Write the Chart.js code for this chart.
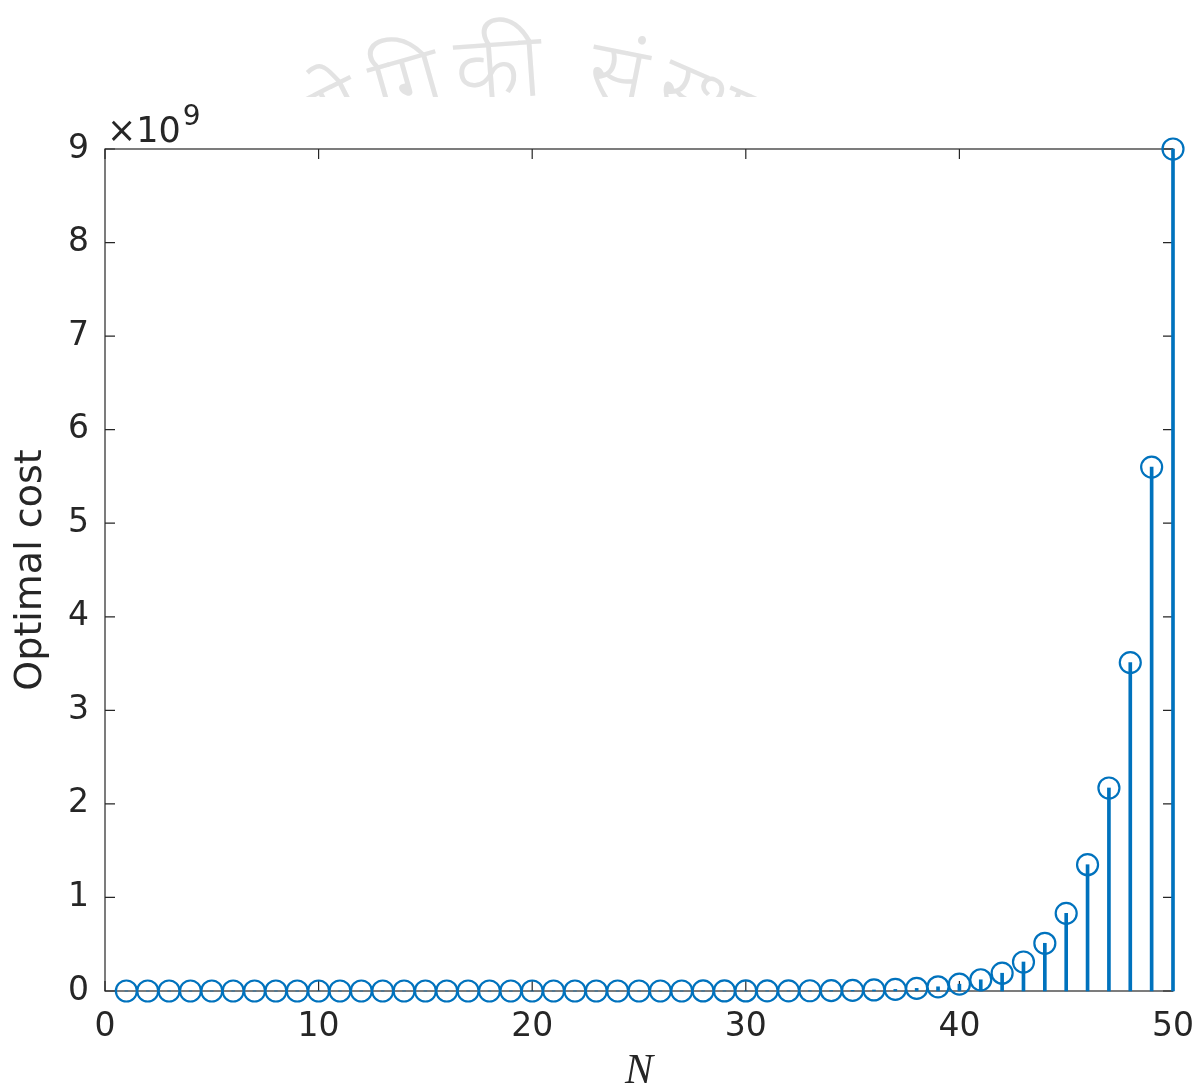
<!DOCTYPE html>
<html>
<head>
<meta charset="utf-8">
<title>Optimal cost vs N</title>
<script src="https://cdn.jsdelivr.net/npm/chart.js@4.4.1/dist/chart.umd.min.js"></script>
<style>
  html, body { margin: 0; padding: 0; background: #fff; }
  #wrap { width: 1199px; height: 1088px; }
</style>
</head>
<body>
<div id="wrap"><canvas id="chart" width="1199" height="1088"></canvas></div>
<script>
// horizon length N
const horizon = [
  1, 2, 3, 4, 5, 6, 7, 8, 9, 10,
  11, 12, 13, 14, 15, 16, 17, 18, 19, 20,
  21, 22, 23, 24, 25, 26, 27, 28, 29, 30,
  31, 32, 33, 34, 35, 36, 37, 38, 39, 40,
  41, 42, 43, 44, 45, 46, 47, 48, 49, 50
];
// optimal cost, in units of 1e9
const optimalCost = [
  0, 0, 0, 0, 0, 0, 0, 0, 0, 0,
  0, 0, 0, 0, 0, 0, 0, 0, 0, 0,
  0, 0, 0, 0, 0, 0, 0.0002, 0.0003, 0.0005, 0.0008,
  0.001, 0.0015, 0.0025, 0.004, 0.0066, 0.011, 0.017, 0.028, 0.045, 0.073,
  0.12, 0.19, 0.31, 0.51, 0.83, 1.35, 2.17, 3.51, 5.6, 9.0
];
const xTicks = [0, 10, 20, 30, 40, 50];
const yTicks = [0, 1, 2, 3, 4, 5, 6, 7, 8, 9];
const exponentLabel = ['\u00d710', '9'];
// seal lettering, one grapheme cluster per entry
const sealText = ['प्रौ', 'द्यो', 'गि', 'की', ' ', 'सं', 'स्था', 'न'];

const stemBlue = '#0072BD';
const axisInk = '#262626';
const tickFont = { family: 'DejaVu Sans', size: 33 };

const points = horizon.map((n, i) => ({ x: n, y: optimalCost[i] }));

// faint round seal peeking out above the axes, lettering set on an arc
const stamp = {
  id: 'stamp',
  beforeDraw(chart) {
    const { ctx } = chart;
    const cx = 530, r = 420, cy = 97 + r;
    const gap = 8;
    ctx.save();
    ctx.beginPath();
    ctx.rect(290, 0, 475, 97);
    ctx.clip();
    ctx.fillStyle = '#e3e3e3';
    ctx.font = '300 90px "Noto Sans", sans-serif';
    ctx.textBaseline = 'alphabetic';
    ctx.textAlign = 'left';
    const widths = sealText.map(t => ctx.measureText(t).width + gap);
    // put the middle of the 4th cluster a little left of the seal centre
    const before = widths.slice(0, 3).reduce((a, b) => a + b, 0) + widths[3] / 2;
    let s = -before - 0.071 * r;
    sealText.forEach((t, i) => {
      const w = widths[i];
      const theta = (s + w / 2) / r;
      ctx.save();
      ctx.translate(cx, cy);
      ctx.rotate(theta);
      ctx.fillText(t, -(w - gap) / 2, -r);
      ctx.restore();
      s += w;
    });
    ctx.restore();
  }
};

// box around the axes with inward ticks on all four sides, plus the exponent
const axesBox = {
  id: 'axesBox',
  beforeDatasetsDraw(chart) {
    const { ctx, chartArea: a, scales: { x, y } } = chart;
    const len = 10;
    ctx.save();
    ctx.strokeStyle = axisInk;
    ctx.lineWidth = 1.2;
    ctx.strokeRect(a.left, a.top, a.right - a.left, a.bottom - a.top);
    ctx.beginPath();
    xTicks.forEach(v => {
      const px = x.getPixelForValue(v);
      ctx.moveTo(px, a.bottom); ctx.lineTo(px, a.bottom - len);
      ctx.moveTo(px, a.top); ctx.lineTo(px, a.top + len);
    });
    yTicks.forEach(v => {
      const py = y.getPixelForValue(v);
      ctx.moveTo(a.left, py); ctx.lineTo(a.left + len, py);
      ctx.moveTo(a.right, py); ctx.lineTo(a.right - len, py);
    });
    ctx.stroke();

    ctx.fillStyle = axisInk;
    ctx.textBaseline = 'alphabetic';
    ctx.font = '35px "DejaVu Sans"';
    ctx.fillText(exponentLabel[0], a.left + 2, a.top - 7);
    const w = ctx.measureText(exponentLabel[0]).width;
    ctx.font = '28px "DejaVu Sans"';
    ctx.fillText(exponentLabel[1], a.left + 4 + w, a.top - 24);
    ctx.restore();
  }
};

new Chart(document.getElementById('chart'), {
  type: 'bar',
  data: {
    datasets: [
      {
        type: 'line',
        data: points,
        showLine: false,
        pointStyle: 'circle',
        pointRadius: 10.5,
        pointBorderWidth: 2.2,
        pointBorderColor: stemBlue,
        pointBackgroundColor: 'rgba(0,0,0,0)',
        clip: false,
        order: 1
      },
      {
        type: 'bar',
        data: points,
        backgroundColor: stemBlue,
        barThickness: 3,
        clip: false,
        order: 2
      }
    ]
  },
  options: {
    responsive: false,
    animation: false,
    layout: { padding: { top: 149, right: 26, left: 0, bottom: 0 } },
    plugins: {
      legend: { display: false },
      tooltip: { enabled: false }
    },
    scales: {
      x: {
        type: 'linear',
        offset: false,
        min: 0,
        max: 50,
        afterFit(s) { s.height = 97; s.paddingLeft = 0; s.paddingRight = 0; },
        afterBuildTicks(s) { s.ticks = xTicks.map(v => ({ value: v })); },
        grid: { display: false, drawTicks: false },
        border: { display: false },
        ticks: { color: axisInk, font: tickFont, padding: 17, maxRotation: 0 },
        title: {
          display: true,
          text: 'N',
          color: axisInk,
          font: { family: 'Liberation Serif', size: 42, style: 'italic', lineHeight: 0.75 },
          padding: { top: 0, bottom: 0 }
        }
      },
      y: {
        type: 'linear',
        min: 0,
        max: 9,
        afterFit(s) { s.width = 105; },
        afterBuildTicks(s) { s.ticks = yTicks.map(v => ({ value: v })); },
        grid: { display: false, drawTicks: false },
        border: { display: false },
        ticks: { color: axisInk, font: tickFont, padding: 16 },
        title: {
          display: true,
          text: 'Optimal cost',
          color: axisInk,
          font: { family: 'DejaVu Sans', size: 38 },
          padding: { top: 8, bottom: 0 }
        }
      }
    }
  },
  plugins: [stamp, axesBox]
});
</script>
</body>
</html>
